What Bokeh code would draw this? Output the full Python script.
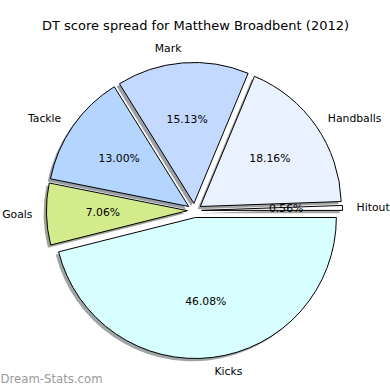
import numpy as np
from bokeh.plotting import figure
from bokeh.models import ColumnDataSource, Range1d, Label
from bokeh.embed import file_html
from bokeh.resources import INLINE

# ---- data ----
labels = ["Hitout", "Handballs", "Mark", "Tackle", "Goals", "Kicks"]
values = [0.56, 18.16, 15.13, 13.00, 7.06, 46.08]
colors = ["#ffffff", "#eaf1ff", "#c4d9ff", "#b3d5ff", "#d2eb8c", "#d8ffff"]
title_text = "DT score spread for Matthew Broadbent (2012)"
watermark = "Dream-Stats.com"

EXPLODE = 0.05
R = 1.0
FONT = "DejaVu Sans"

vals = np.array(values, dtype=float)
frac = vals / vals.sum()
t2 = np.cumsum(frac) * 2 * np.pi
t1 = np.concatenate([[0.0], t2[:-1]])
mid = (t1 + t2) / 2
cx = EXPLODE * R * np.cos(mid)
cy = EXPLODE * R * np.sin(mid)

def shade(hexc):
    h = hexc.lstrip("#")
    r, g, b = (int(h[i:i + 2], 16) for i in (0, 2, 4))
    return "#%02x%02x%02x" % (int(r * 0.3), int(g * 0.3), int(b * 0.3))

src = ColumnDataSource(dict(
    x=cx, y=cy, sx=cx - 0.02, sy=cy - 0.02,
    start=t1, end=t2, color=colors,
    shadow=[shade(c) for c in colors],
))

W = H = 390
scale = 141.0
c_px = (194.0, 210.0)
x0 = -c_px[0] / scale
x1 = (W - c_px[0]) / scale
y1 = c_px[1] / scale
y0 = -(H - c_px[1]) / scale

p = figure(width=W, height=H, output_backend="svg", toolbar_location=None,
           x_range=Range1d(x0, x1), y_range=Range1d(y0, y1),
           min_border=0, background_fill_color="white", border_fill_color="white")
p.axis.visible = False
p.grid.visible = False
p.outline_line_color = None

# shadows
p.wedge(x="sx", y="sy", radius=R, start_angle="start", end_angle="end",
        fill_color="shadow", fill_alpha=0.5, line_color=None, source=src)
# wedges
p.wedge(x="x", y="y", radius=R, start_angle="start", end_angle="end",
        fill_color="color", line_color="black", line_width=1, source=src)

# category labels
lx = cx + 1.1 * R * np.cos(mid)
ly = cy + 1.1 * R * np.sin(mid)
align = ["left" if np.cos(m) > 0 else "right" for m in mid]
lab_src = ColumnDataSource(dict(x=lx, y=ly, text=labels, align=align))
p.text(x="x", y="y", text="text", text_align="align", text_baseline="middle",
       text_font_size="10.8px", text_color="black", text_font={"value": FONT},
       source=lab_src)

# percentage labels
px = cx + 0.6 * R * np.cos(mid)
py = cy + 0.6 * R * np.sin(mid)
pct = ["%.2f%%" % (f * 100) for f in frac]
pct_src = ColumnDataSource(dict(x=px, y=py, text=pct))
p.text(x="x", y="y", text="text", text_align="center", text_baseline="middle",
       text_font_size="10.8px", text_color="black", text_font={"value": FONT},
       source=pct_src)

# title
p.add_layout(Label(x=195, y=H - 25, x_units="screen", y_units="screen",
                   text=title_text, text_align="center", text_baseline="middle",
                   text_font=FONT, text_font_size="13px", text_color="black"))
# watermark
p.add_layout(Label(x=0, y=5, x_units="screen", y_units="screen",
                   text=watermark, text_align="left", text_baseline="bottom",
                   text_font=FONT, text_font_size="11.7px", text_color="#9a9a9a"))

open("out.html", "w").write(file_html(p, INLINE))
